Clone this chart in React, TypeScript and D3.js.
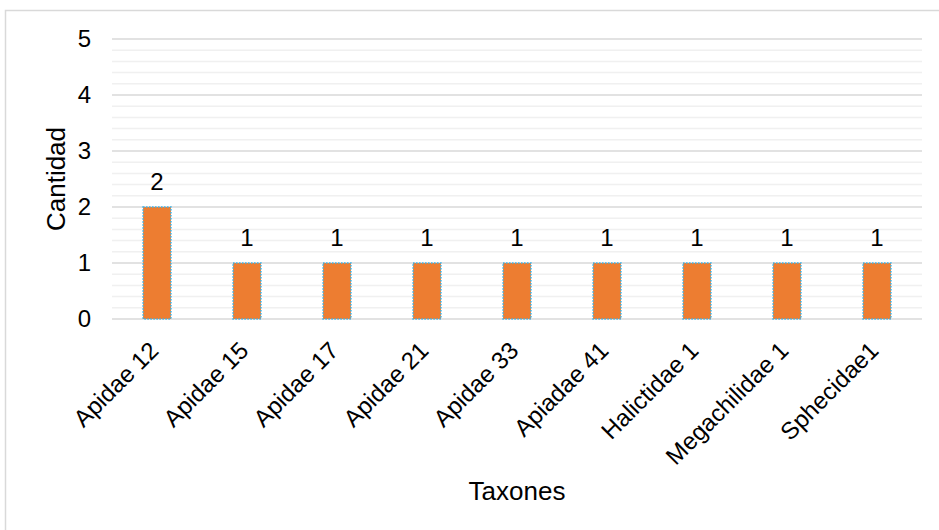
import React from "react";
import * as d3 from "d3";

const categories = ["Apidae 12", "Apidae 15", "Apidae 17", "Apidae 21", "Apidae 33", "Apiadae 41", "Halictidae 1", "Megachilidae 1", "Sphecidae1"];
const values = [2, 1, 1, 1, 1, 1, 1, 1, 1];
const yTicks = [0, 1, 2, 3, 4, 5];
const yTitle = "Cantidad";
const xTitle = "Taxones";

const W = 939;
const H = 530;
const plot = { left: 112, right: 922, top: 39, bottom: 319 };
const FONT = "'Liberation Sans', Arial, sans-serif";

export default function App() {
  const x = d3.scaleBand<string>().domain(categories).range([plot.left, plot.right]).paddingInner(0.69).paddingOuter(0.345);
  const y = d3.scaleLinear().domain([0, 5]).range([plot.bottom, plot.top]);
  const minor = d3.range(0, 5.0001, 0.2).filter((v) => Math.abs(v - Math.round(v)) > 1e-6);

  return (
    <svg width={W} height={H} style={{ position: "absolute", left: 0, top: 0 }} fontFamily={FONT}>
      <rect x={0} y={0} width={W} height={H} fill="#fff" />
      <rect x={5.5} y={10.5} width={1000} height={1000} fill="none" stroke="#d9d9d9" strokeWidth={1.5} />
      {minor.map((v) => (
        <line key={"m" + v} x1={plot.left} x2={plot.right} y1={y(v)} y2={y(v)} stroke="#f0f0f0" strokeWidth={1.5} />
      ))}
      {yTicks.map((v) => (
        <line key={"g" + v} x1={plot.left} x2={plot.right} y1={y(v)} y2={y(v)} stroke="#d9d9d9" strokeWidth={1.5} />
      ))}
      {yTicks.map((v) => (
        <text key={"t" + v} x={91} y={y(v)} dy="0.35em" textAnchor="end" fontSize={24} fill="#000">
          {v}
        </text>
      ))}
      {categories.map((c, i) => {
        const x0 = x(c)!;
        const bw = x.bandwidth();
        return (
          <g key={c}>
            <rect x={x0} y={y(values[i])} width={bw} height={y(0) - y(values[i])} fill="#ED7D31" stroke="#3bb4ea" strokeWidth={1.5} strokeDasharray="1.5 1.5" />
            <text x={x0 + bw / 2} y={y(values[i]) - 17} textAnchor="middle" fontSize={24} fill="#000">
              {values[i]}
            </text>
            <text transform={`translate(${x0 + bw / 2 + 3},${plot.bottom + 33}) rotate(-45)`} textAnchor="end" fontSize={24} fill="#000">
              {c}
            </text>
          </g>
        );
      })}
      <text transform={`translate(65,${(plot.top + plot.bottom) / 2}) rotate(-90)`} textAnchor="middle" fontSize={26} fill="#000">
        {yTitle}
      </text>
      <text x={(plot.left + plot.right) / 2} y={500} textAnchor="middle" fontSize={26} fill="#000">
        {xTitle}
      </text>
    </svg>
  );
}
